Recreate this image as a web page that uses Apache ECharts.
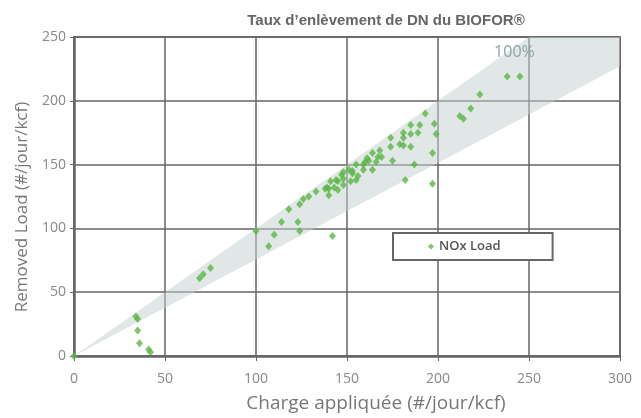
<!DOCTYPE html>
<html>
<head>
<meta charset="utf-8">
<script src="https://cdn.jsdelivr.net/npm/echarts@6/dist/echarts.min.js"></script>
<style>
  html, body { margin: 0; padding: 0; background: #fff; }
  #chart { width: 641px; height: 418px; }
</style>
</head>
<body>
<div id="chart"></div>
<script>
// charge appliquée (x) / removed load (y)
var chargeX = [0, 34, 35, 35, 36, 41, 42, 69, 71, 75, 100, 107, 110, 114, 118, 123, 124, 124, 126, 129,
  133, 138, 139, 140, 140, 142, 141, 143, 144, 145, 145, 147, 148, 148, 148, 151, 152, 153, 153, 155,
  155, 156, 159, 159, 160, 161, 162, 164, 164, 166, 167, 168, 169, 174, 174, 175, 179, 181, 181, 181,
  182, 185, 185, 185, 187, 189, 190, 193, 197, 197, 198, 199, 212, 214, 218, 223, 238, 245];
var removedY = [0, 31, 29, 20, 10, 5, 3, 61, 64, 69, 98, 86, 95, 105, 115, 105, 98, 119, 123, 125,
  129, 131, 132, 131, 126, 94, 137, 132, 138, 137, 130, 142, 144, 139, 134, 146, 137, 145, 143, 150,
  138, 141, 150, 146, 152, 155, 153, 159, 146, 152, 156, 161, 156, 171, 164, 153, 166, 175, 171, 165,
  138, 181, 174, 164, 150, 175, 181, 190, 159, 135, 182, 174, 188, 186, 194, 205, 219, 219];

// band limits (ratios removed / applied)
var bandUpper = 1.0;
var bandLower = 0.757;
var xMax = 300, yMax = 250;

var points = chargeX.map(function (x, i) { return [x, removedY[i]]; });

var gray = '#666';
var myChart = echarts.init(document.getElementById('chart'));

myChart.setOption({
    animation: false,
    title: {
        text: 'Taux d\u2019enlèvement de DN du BIOFOR®',
        left: 381,
        textAlign: 'center',
        top: 8,
        textStyle: { fontFamily: 'Liberation Sans', fontSize: 15, fontWeight: 'bold', color: '#666' }
    },
    legend: {
        left: 393,
        top: 233,
        orient: 'vertical',
        backgroundColor: '#fff',
        borderColor: gray,
        borderWidth: 2,
        padding: [7, 52, 7, 35],
        itemWidth: 6,
        itemHeight: 6,
        itemGap: 0,
        textStyle: { fontFamily: 'Open Sans', fontSize: 13, color: '#555', fontWeight: 600 },
        data: [{ name: 'NOx Load', icon: 'diamond' }]
    },
    grid: { left: 74, right: 21, top: 37, bottom: 61.5, show: true, borderColor: '#777', borderWidth: 2 },
    xAxis: {
        type: 'value', min: 0, max: xMax, interval: 50,
        name: 'Charge appliquée (#/jour/kcf)',
        nameLocation: 'middle', nameGap: 38,
        nameTextStyle: { fontFamily: 'Open Sans', fontSize: 19, color: '#777', padding: [0, 0, 0, 58] },
        axisLine: { show: true, onZero: false, lineStyle: { color: gray, width: 2.5 } },
        axisTick: { show: true, length: 5, lineStyle: { color: gray } },
        axisLabel: { margin: 16, fontFamily: 'Open Sans', fontSize: 14, color: '#888' },
        splitLine: { lineStyle: { color: gray, width: 1.5 } }
    },
    yAxis: {
        type: 'value', min: 0, max: yMax, interval: 50,
        name: 'Removed Load (#/jour/kcf)',
        nameLocation: 'middle', nameGap: 38,
        nameTextStyle: { fontFamily: 'Open Sans', fontSize: 17, color: '#777', padding: [0, 21, 0, 0] },
        axisLine: { show: true, onZero: false, lineStyle: { color: gray, width: 2.5 } },
        axisTick: { show: true, length: 4, lineStyle: { color: gray } },
        axisLabel: { margin: 8, fontFamily: 'Open Sans', fontSize: 14, color: '#888' },
        splitLine: { lineStyle: { color: gray, width: 1.5 } }
    },
    series: [
        {
            type: 'custom',
            silent: true,
            z: 1,
            renderItem: function (params, api) {
                // band polygon clipped to the axis range
                var xTop = yMax / bandUpper;
                var pts = [
                    api.coord([0, 0]),
                    api.coord([xTop, yMax]),
                    api.coord([xMax, yMax]),
                    api.coord([xMax, bandLower * xMax])
                ];
                var lbl = api.coord([242, 238]);
                return {
                    type: 'group',
                    children: [
                        { type: 'polygon', shape: { points: pts }, style: { fill: 'rgba(196,208,208,0.5)' } },
                        { type: 'text', x: lbl[0], y: lbl[1],
                          style: { text: '100%', fill: '#8fa3a3', fontSize: 16, fontFamily: 'Open Sans',
                                   align: 'center', verticalAlign: 'middle' } }
                    ]
                };
            },
            data: [[0, 0]]
        },
        {
            name: 'NOx Load',
            type: 'scatter',
            symbol: 'diamond',
            symbolSize: [7, 8],
            z: 3,
            itemStyle: { color: '#5bb645' },
            clip: false,
            data: points
        }
    ]
});
</script>
</body>
</html>
